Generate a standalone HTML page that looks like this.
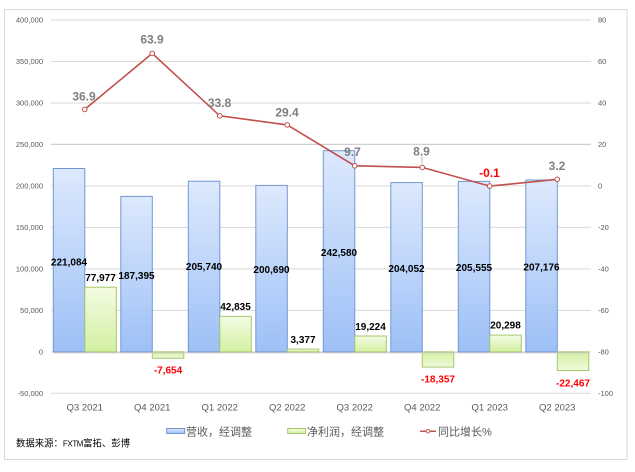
<!DOCTYPE html>
<html><head><meta charset="utf-8"><style>
html,body{margin:0;padding:0;background:#fff;}
svg{display:block;}
text{font-family:"Liberation Sans","Noto Sans CJK SC",sans-serif;}
</style></head><body>
<svg width="635" height="472" viewBox="0 0 635 472" xmlns="http://www.w3.org/2000/svg">
<defs>
<linearGradient id="gb" x1="0" y1="0" x2="0" y2="1"><stop offset="0" stop-color="#dde9fd"/><stop offset="1" stop-color="#9dc0f6"/></linearGradient>
<linearGradient id="gg" x1="0" y1="0" x2="0" y2="1"><stop offset="0" stop-color="#f4fce4"/><stop offset="1" stop-color="#d3f0a2"/></linearGradient>
<linearGradient id="ggn" x1="0" y1="0" x2="0" y2="1"><stop offset="0" stop-color="#d3f0a2"/><stop offset="1" stop-color="#f0fadc"/></linearGradient>
</defs>
<rect x="4.5" y="9.5" width="622.5" height="450" fill="#fff" stroke="#d9d9d9" stroke-width="1"/>
<!-- gridlines -->
<g stroke="#d9d9d9" stroke-width="1">
<line x1="51" y1="20" x2="591" y2="20"/>
<line x1="51" y1="61.5" x2="591" y2="61.5"/>
<line x1="51" y1="103" x2="591" y2="103"/>
<line x1="51" y1="144.4" x2="591" y2="144.4" stroke="#cfcfcf" stroke-width="1.3"/>
<line x1="51" y1="185.9" x2="591" y2="185.9"/>
<line x1="51" y1="227.4" x2="591" y2="227.4"/>
<line x1="51" y1="268.9" x2="591" y2="268.9"/>
<line x1="51" y1="310.4" x2="591" y2="310.4"/>
<line x1="51" y1="351.9" x2="591" y2="351.9"/>
<line x1="51" y1="393.3" x2="591" y2="393.3"/>
</g>
<!-- left axis labels -->
<g font-size="7.5" fill="#595959" text-anchor="end">
<text x="43" y="22.7">400,000</text>
<text x="43" y="64.2">350,000</text>
<text x="43" y="105.7">300,000</text>
<text x="43" y="147.1">250,000</text>
<text x="43" y="188.6">200,000</text>
<text x="43" y="230.1">150,000</text>
<text x="43" y="271.6">100,000</text>
<text x="43" y="313.1">50,000</text>
<text x="43" y="354.6">0</text>
<text x="43" y="396">-50,000</text>
</g>
<!-- right axis labels -->
<g font-size="7.5" fill="#595959" text-anchor="start">
<text x="598" y="22.7">80</text>
<text x="598" y="64.2">60</text>
<text x="598" y="105.7">40</text>
<text x="598" y="147.1">20</text>
<text x="598" y="188.6">0</text>
<text x="598" y="230.1">-20</text>
<text x="598" y="271.6">-40</text>
<text x="598" y="313.1">-60</text>
<text x="598" y="354.6">-80</text>
<text x="598" y="396">-100</text>
</g>
<!-- bars -->
<g stroke="#7398d0" stroke-width="1" fill="url(#gb)">
<rect x="53.3" y="168.5" width="31.5" height="183.4"/>
<rect x="120.8" y="196.4" width="31.5" height="155.5"/>
<rect x="188.3" y="181.2" width="31.5" height="170.7"/>
<rect x="255.8" y="185.4" width="31.5" height="166.5"/>
<rect x="323.3" y="150.7" width="31.5" height="201.2"/>
<rect x="390.8" y="182.6" width="31.5" height="169.3"/>
<rect x="458.3" y="181.4" width="31.5" height="170.5"/>
<rect x="525.8" y="180" width="31.5" height="171.9"/>
</g>
<g stroke="#a6c76e" stroke-width="1">
<rect x="84.8" y="287.2" width="31.5" height="64.7" fill="url(#gg)"/>
<rect x="152.3" y="351.9" width="31.5" height="6.35" fill="url(#ggn)"/>
<rect x="219.8" y="316.4" width="31.5" height="35.5" fill="url(#gg)"/>
<rect x="287.3" y="349.1" width="31.5" height="2.8" fill="url(#gg)"/>
<rect x="354.8" y="336" width="31.5" height="15.9" fill="url(#gg)"/>
<rect x="422.3" y="351.9" width="31.5" height="15.2" fill="url(#ggn)"/>
<rect x="489.8" y="335.1" width="31.5" height="16.8" fill="url(#gg)"/>
<rect x="557.3" y="351.9" width="31.5" height="18.6" fill="url(#ggn)"/>
</g>
<line x1="53" y1="352.8" x2="589" y2="352.8" stroke="#c8c8c8" stroke-width="0.8"/>
<!-- bar labels -->
<g font-size="10" font-weight="bold" fill="#000" text-anchor="middle">
<text x="69" y="265.3">221,084</text>
<text x="136.5" y="278.8">187,395</text>
<text x="204" y="270.2">205,740</text>
<text x="271.5" y="273">200,690</text>
<text x="339" y="255.8">242,580</text>
<text x="406.5" y="271.8">204,052</text>
<text x="474" y="271.2">205,555</text>
<text x="541.5" y="270.5">207,176</text>
<text x="100.5" y="281">77,977</text>
<text x="235.5" y="310">42,835</text>
<text x="303" y="342.8">3,377</text>
<text x="370.5" y="330">19,224</text>
<text x="505.5" y="328.5">20,298</text>
</g>
<g font-size="10" font-weight="bold" fill="#ff0000" text-anchor="middle">
<text x="168" y="373.7">-7,654</text>
<text x="438" y="382.6">-18,357</text>
<text x="573" y="386.3">-22,467</text>
</g>
<!-- line -->
<polyline points="84.75,109.4 152.25,53.4 219.75,115.8 287.25,124.9 354.75,165.8 422.25,167.4 489.75,186.1 557.25,179.3" fill="none" stroke="#c0504d" stroke-width="1.6"/>
<g fill="#fff" stroke="#c0504d" stroke-width="1">
<circle cx="84.75" cy="109.4" r="2.3"/>
<circle cx="152.25" cy="53.4" r="2.3"/>
<circle cx="219.75" cy="115.8" r="2.3"/>
<circle cx="287.25" cy="124.9" r="2.3"/>
<circle cx="354.75" cy="165.8" r="2.3"/>
<circle cx="422.25" cy="167.4" r="2.3"/>
<circle cx="489.75" cy="186.1" r="2.3"/>
<circle cx="557.25" cy="179.3" r="2.3"/>
</g>
<line x1="422" y1="156.5" x2="422" y2="163.5" stroke="#a6a6a6" stroke-width="0.8"/>
<g font-size="12" font-weight="bold" fill="#7f7f7f" text-anchor="middle">
<text x="84" y="100.3">36.9</text>
<text x="152" y="43.6">63.9</text>
<text x="219.5" y="107">33.8</text>
<text x="287" y="116.6">29.4</text>
<text x="352.5" y="156">9.7</text>
<text x="421.5" y="155.3">8.9</text>
<text x="557" y="170">3.2</text>
</g>
<text x="489.5" y="177" font-size="12" font-weight="bold" fill="#ff0000" text-anchor="middle">-0.1</text>
<!-- category labels -->
<g font-size="9.5" fill="#595959" text-anchor="middle">
<text x="84.75" y="410.5">Q3 2021</text>
<text x="152.25" y="410.5">Q4 2021</text>
<text x="219.75" y="410.5">Q1 2022</text>
<text x="287.25" y="410.5">Q2 2022</text>
<text x="354.75" y="410.5">Q3 2022</text>
<text x="422.25" y="410.5">Q4 2022</text>
<text x="489.75" y="410.5">Q1 2023</text>
<text x="557.25" y="410.5">Q2 2023</text>
</g>
<!-- legend -->
<rect x="166.7" y="428.5" width="18" height="5" fill="url(#gb)" stroke="#7398d0" stroke-width="1"/>
<text x="186" y="435.5" font-size="11" fill="#595959">营收，经调整</text>
<rect x="287.7" y="428.5" width="18" height="5" fill="url(#gg)" stroke="#a6c76e" stroke-width="1"/>
<text x="307" y="435.5" font-size="11" fill="#595959">净利润，经调整</text>
<line x1="420" y1="431.3" x2="436" y2="431.3" stroke="#c0504d" stroke-width="1.5"/>
<circle cx="428" cy="431.3" r="1.8" fill="#fff" stroke="#c0504d" stroke-width="0.9"/>
<text x="438" y="435.5" font-size="11" fill="#595959">同比增长%</text>
<!-- source -->
<text x="16" y="446.5" font-size="9.4" fill="#000">数据来源：<tspan font-size="8" letter-spacing="-0.4">FXTM</tspan>富拓、彭博</text>
</svg>
</body></html>
